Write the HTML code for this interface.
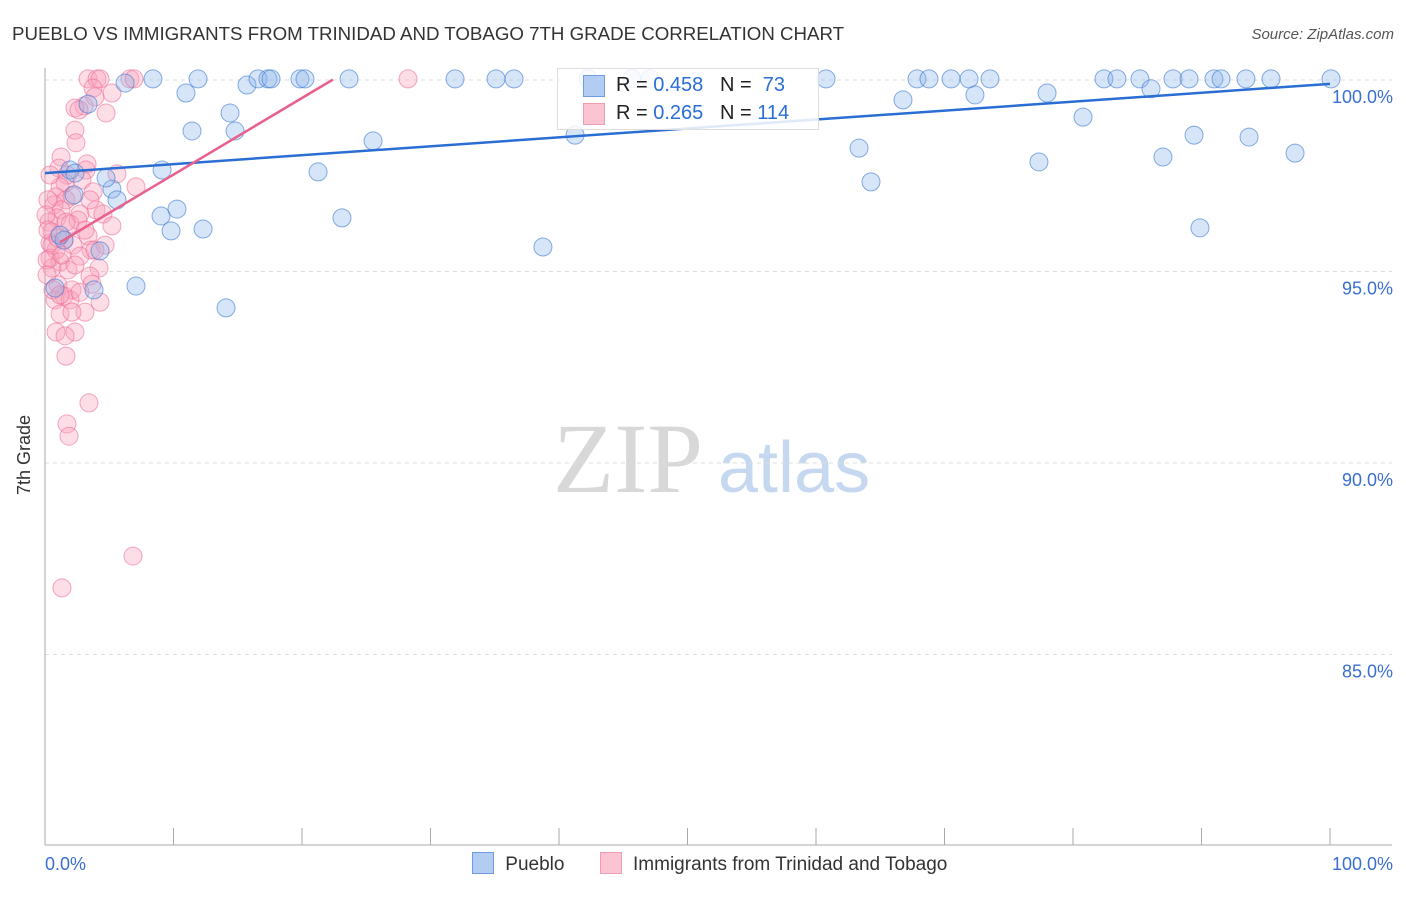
<!DOCTYPE html>
<html><head><meta charset="utf-8"><style>
body{margin:0;background:#fff;font-family:"Liberation Sans",sans-serif}
</style></head><body>
<svg id="c" width="1406" height="892" style="font-family:'Liberation Sans',sans-serif">
<text x="12" y="40" font-size="18.7" fill="#333">PUEBLO VS IMMIGRANTS FROM TRINIDAD AND TOBAGO 7TH GRADE CORRELATION CHART</text>
<text x="1394" y="39" font-size="15" fill="#555" text-anchor="end" font-style="italic">Source: ZipAtlas.com</text>
<text x="30" y="455" font-size="18" fill="#333" text-anchor="middle" transform="rotate(-90 30 455)">7th Grade</text>
<text x="553" y="492" font-size="100" fill="#d8d8d8" style="font-family:'Liberation Serif',serif">ZIP</text>
<text x="718" y="492" font-size="72" fill="#c5d8ef">atlas</text>
<g id="grid"></g><g id="pts"></g><g id="lines"></g>
</svg>
<script>
const yTicks=[100,95,90,85];
const xTicks=[0,10,20,30,40,50,60,70,80,90,100];
const bluePx=[[125,83],[153,79],[186,93],[198,79],[192,131],[230,113],[235,131],[247,85],[258,79],[268,79],[271,79],[300,79],[305,79],[349,79],[373,141],[318,172],[162,170],[161,216],[177,209],[171,231],[203,229],[226,308],[342,218],[136,286],[94,290],[100,251],[112,189],[117,200],[106,178],[70,170],[74,195],[64,240],[55,288],[88,104],[455,79],[496,79],[514,79],[543,247],[575,135],[588,79],[632,79],[650,79],[826,79],[859,148],[871,182],[903,100],[917,79],[929,79],[951,79],[969,79],[975,95],[990,79],[1039,162],[1047,93],[1083,117],[1104,79],[1117,79],[1140,79],[1151,89],[1163,157],[1173,79],[1189,79],[1194,135],[1200,228],[1214,79],[1221,79],[1246,79],[1249,137],[1271,79],[1295,153],[1331,79],[75,173],[60,235]];
const pinkPx=[[88,79],[97,79],[100,79],[130,79],[134,79],[408,79],[93,88],[112,93],[95,97],[84,106],[106,113],[75,108],[79,110],[75,130],[76,143],[61,157],[59,168],[87,164],[86,170],[67,175],[82,180],[65,183],[60,187],[136,187],[93,192],[56,197],[66,200],[117,174],[54,205],[61,210],[96,210],[80,214],[103,214],[57,218],[49,222],[70,224],[112,226],[52,232],[88,236],[64,240],[50,243],[73,245],[56,250],[91,250],[105,245],[50,258],[60,262],[80,256],[68,270],[52,268],[99,268],[90,276],[58,285],[72,290],[64,296],[92,284],[55,300],[70,300],[85,312],[60,314],[72,312],[56,332],[75,332],[65,336],[66,356],[89,403],[67,424],[69,436],[133,556],[62,588],[50,175],[48,200],[46,215],[48,230],[52,245],[47,260],[47,275],[53,290],[62,255],[75,265],[60,295],[78,220],[85,230],[95,250],[80,292],[100,302],[66,222],[58,238],[90,200],[72,196]];
const blueX=bluePx.map(p=>+((p[0]-45)/12.85).toFixed(2));
const blueY=bluePx.map(p=>+(100-(p[1]-80)/38.3).toFixed(2));
const pinkX=pinkPx.map(p=>+((p[0]-45)/12.85).toFixed(2));
const pinkY=pinkPx.map(p=>+(100-(p[1]-80)/38.3).toFixed(2));
const blueFit=[97.57,0.0233];
const pinkFit=[95.53,0.2];
const pinkFitRange=[1.17,22.4];

const X=v=>45+v*12.85, Y=v=>80+(100-v)*38.3;
const NS="http://www.w3.org/2000/svg";
function mk(t,a,p){const e=document.createElementNS(NS,t);for(const k in a)e.setAttribute(k,a[k]);p.appendChild(e);return e;}
const grid=document.getElementById('grid'),pts=document.getElementById('pts'),lines=document.getElementById('lines');
yTicks.forEach(v=>{
 const l=mk('line',{x1:45,x2:1392,y1:Y(v),y2:Y(v),stroke:'#ddd','stroke-dasharray':'4,4'},grid);
 
 
 const t=mk('text',{x:1393,y:Y(v)+23,'font-size':18,fill:'#3a6fd0','text-anchor':'end'},grid);
 t.textContent=v.toFixed(1)+'%';
 
 
});
const ax=mk('line',{x1:45,x2:45,y1:68,y2:845,stroke:'#aaa'},grid);


const bx=mk('line',{x1:45,x2:1392,y1:845,y2:845,stroke:'#aaa'},grid);


xTicks.forEach(v=>{
 const l=mk('line',{x1:X(v),x2:X(v),y1:828,y2:845,stroke:'#aaa'},grid);
 
 
});
[[0,'start',45],[100,'end',1393]].forEach(([v,a,x])=>{
 const t=mk('text',{x:x,y:870,'font-size':18,fill:'#3a6fd0','text-anchor':a},grid);
 t.textContent=v.toFixed(1)+'%';
 
 
});
pinkX.forEach((x,i)=>{
 const c=mk('circle',{cx:X(x),cy:Y(pinkY[i]),r:9,fill:'rgba(248,160,185,0.35)',stroke:'rgba(236,110,150,0.6)','stroke-width':1},pts);
 
 
});
blueX.forEach((x,i)=>{
 const c=mk('circle',{cx:X(x),cy:Y(blueY[i]),r:9,fill:'rgba(140,180,235,0.35)',stroke:'rgba(60,120,210,0.6)','stroke-width':1},pts);
 
 
});
const bl=mk('line',{x1:X(0),y1:Y(blueFit[0]),x2:X(100),y2:Y(blueFit[0]+blueFit[1]*100),stroke:'#2a6ed4','stroke-width':2.5},lines);


const pl=mk('line',{x1:X(pinkFitRange[0]),y1:Y(pinkFit[0]+pinkFit[1]*pinkFitRange[0]),x2:X(pinkFitRange[1]),y2:Y(pinkFit[0]+pinkFit[1]*pinkFitRange[1]),stroke:'#e8608c','stroke-width':2.5},lines);


</script>
<div style="position:absolute;left:557px;top:68px;width:260px;height:60px;border:1px solid #ddd;background:rgba(255,255,255,0.85);font-size:20px;color:#222">
 <div style="position:absolute;left:25px;top:6px;width:20px;height:20px;background:#b3cdf2;border:1px solid #6f9be0"></div>
 <div style="position:absolute;left:58px;top:5px">R = <span style="color:#2a6ed4">0.458</span>&nbsp;&nbsp;&nbsp;N = &nbsp;<span style="color:#2a6ed4">73</span></div>
 <div style="position:absolute;left:25px;top:34px;width:20px;height:20px;background:#fbc4d3;border:1px solid #ef9db5"></div>
 <div style="position:absolute;left:58px;top:33px">R = <span style="color:#2a6ed4">0.265</span>&nbsp;&nbsp;&nbsp;N = <span style="color:#2a6ed4">114</span></div>
</div>
<div style="position:absolute;left:472px;top:852px;font-size:19px;color:#333;white-space:nowrap">
 <span style="display:inline-block;width:20px;height:20px;background:#b3cdf2;border:1px solid #6f9be0;vertical-align:-4px"></span> <span style="margin-left:6px">Pueblo</span>
 <span style="display:inline-block;width:20px;height:20px;background:#fbc4d3;border:1px solid #ef9db5;vertical-align:-4px;margin-left:30px"></span> <span style="margin-left:6px">Immigrants from Trinidad and Tobago</span>
</div>
</body></html>
